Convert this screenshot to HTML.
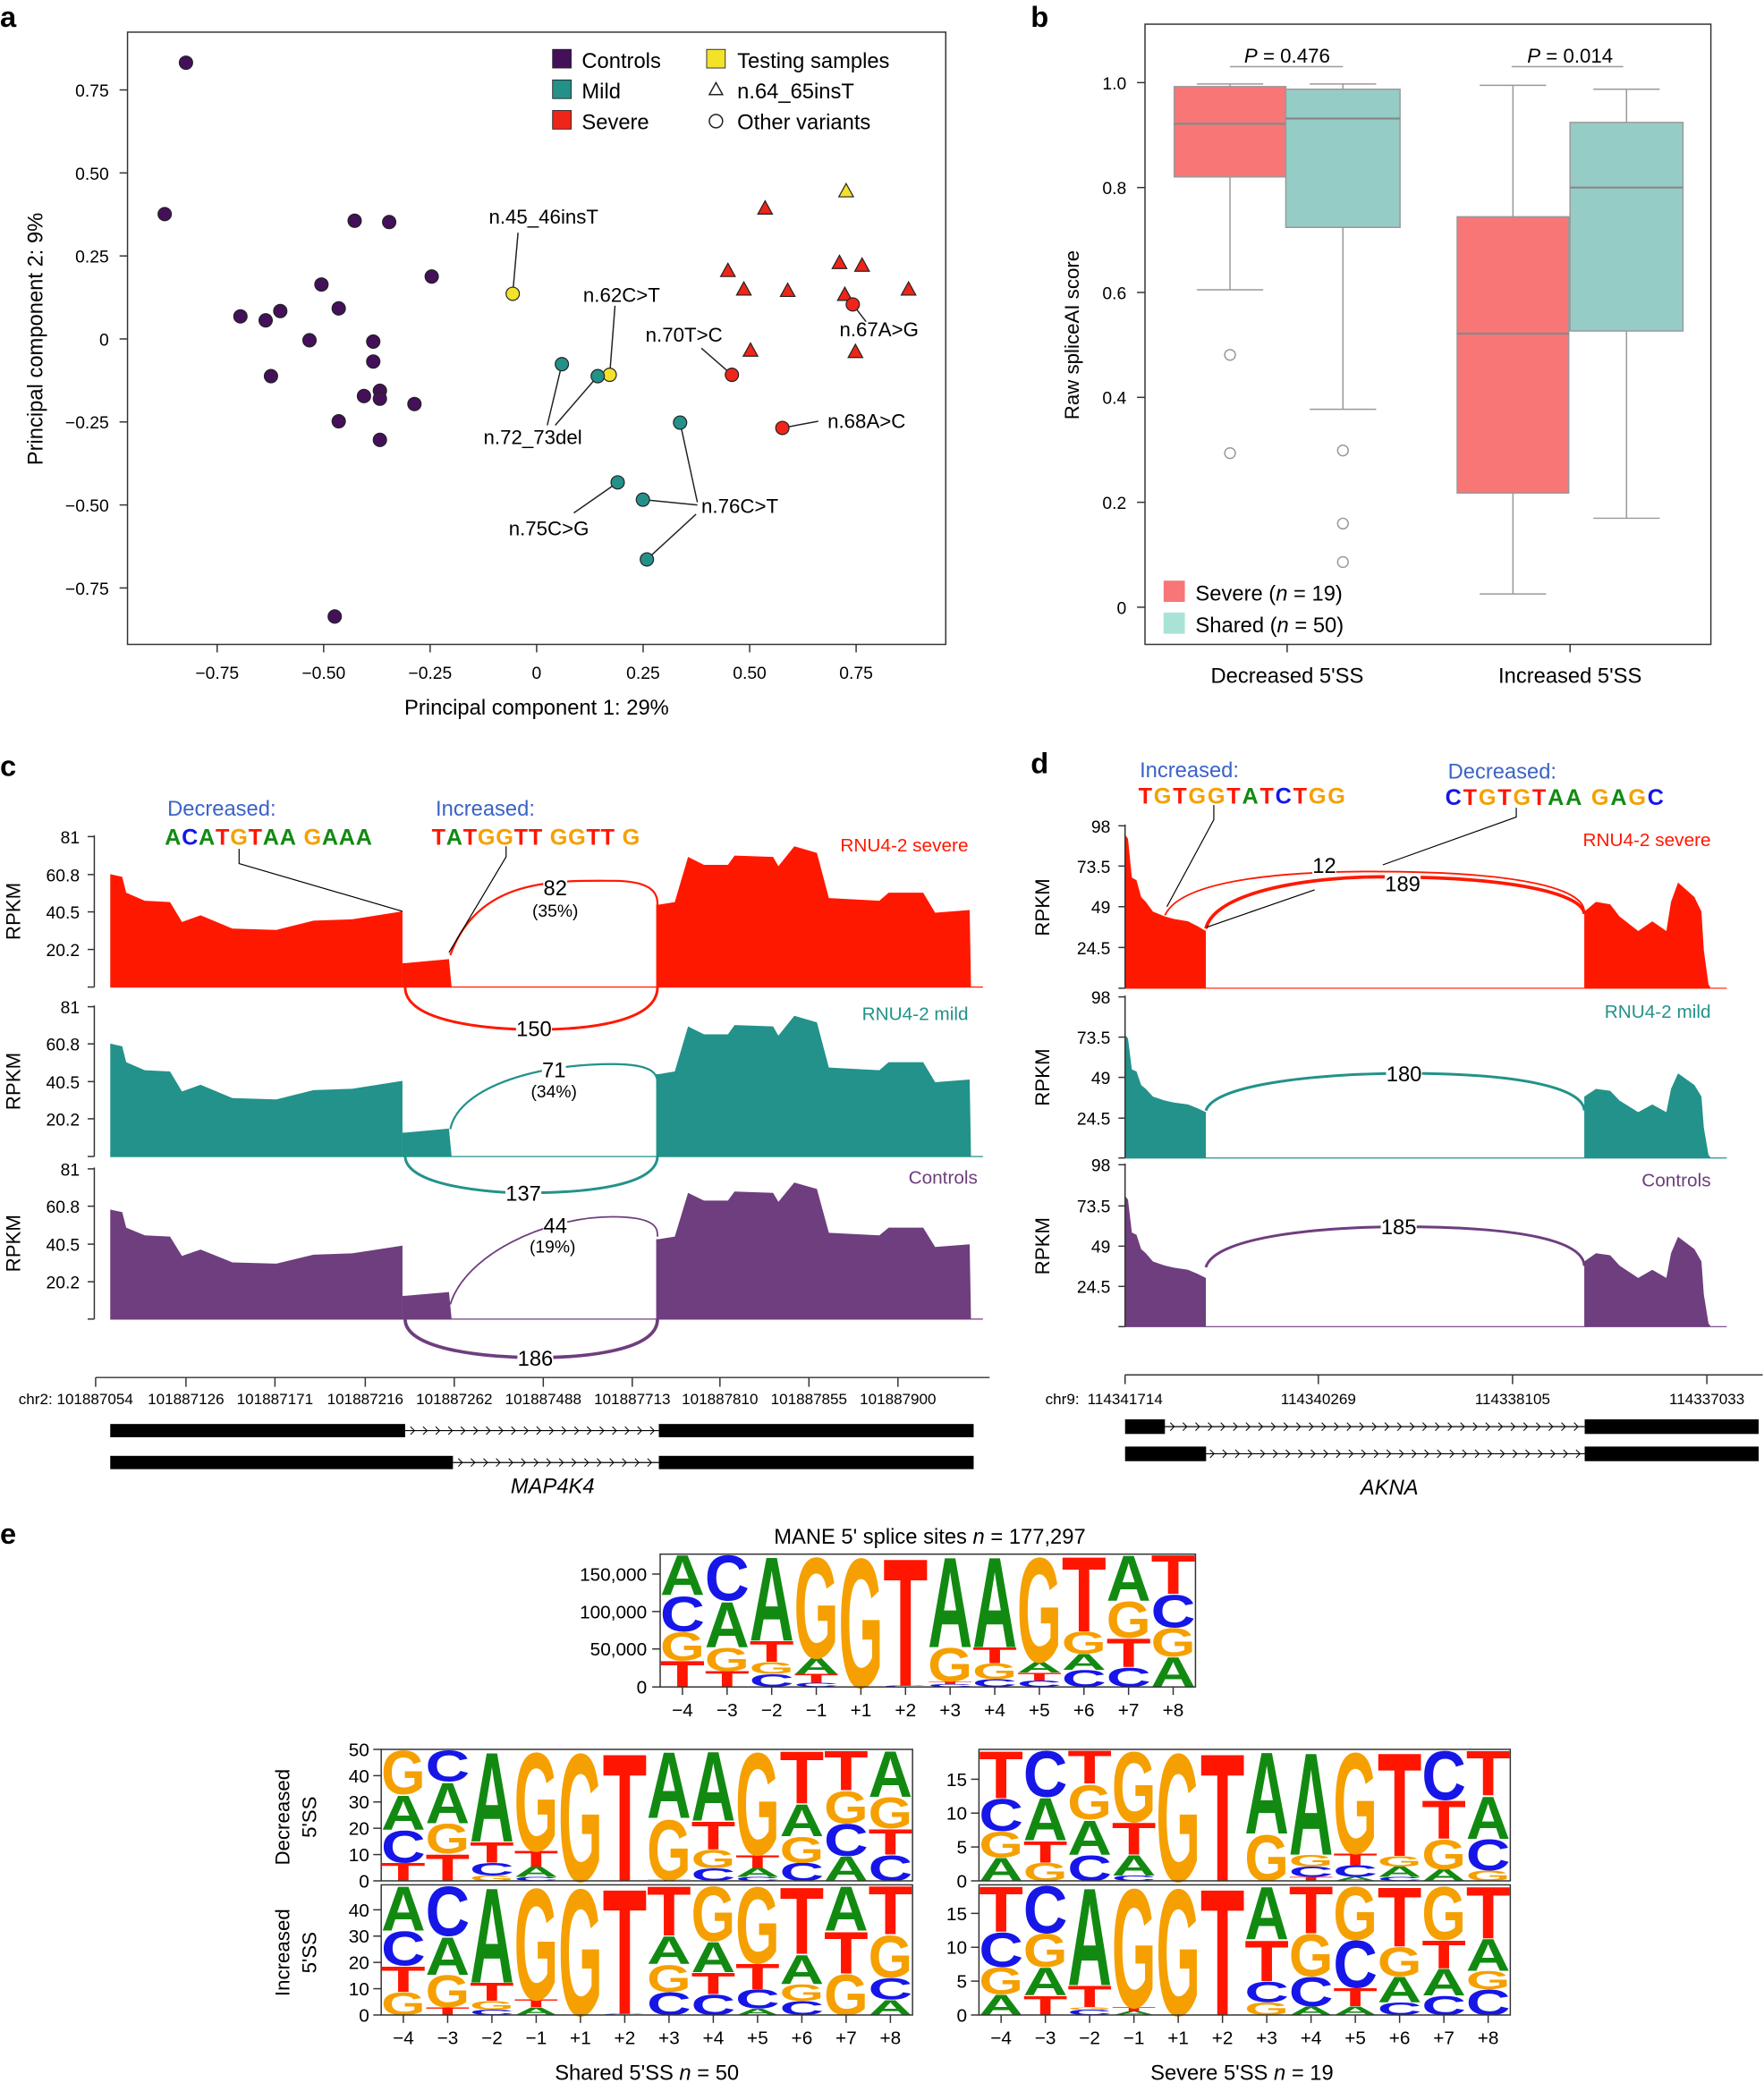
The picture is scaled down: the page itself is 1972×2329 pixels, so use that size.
<!DOCTYPE html>
<html><head><meta charset="utf-8">
<style>
html,body{margin:0;padding:0;background:#fff;}
svg{display:block;}
text{font-family:"Liberation Sans",sans-serif;}
</style></head>
<body>
<svg id="s" xmlns="http://www.w3.org/2000/svg" width="1972" height="2329" viewBox="0 0 1328 1568">
<rect width="1328" height="1568" fill="#fff"/>
</svg>
<script>
var o='';
function T(x,y,s,t,a,extra){o+='<text x="'+x+'" y="'+y+'" font-size="'+s+'"'+(a?' text-anchor="'+a+'"':'')+(extra||'')+'>'+t+'</text>';}
function L(x1,y1,x2,y2,c,w){o+='<line x1="'+x1+'" y1="'+y1+'" x2="'+x2+'" y2="'+y2+'" stroke="'+(c||'#000')+'" stroke-width="'+(w||1)+'"/>';}
// panel letters
T(0,20,22,'a','', ' font-weight="bold"');T(776,20,22,'b','',' font-weight="bold"');
T(0,584,22,'c','',' font-weight="bold"');T(776,582,22,'d','',' font-weight="bold"');T(0,1162,22,'e','',' font-weight="bold"');
// ===== panel a =====
o+='<rect x="96" y="24" width="616" height="461" fill="none" stroke="#333" stroke-width="1"/>';
[[-0.75,'−0.75'],[-0.5,'−0.50'],[-0.25,'−0.25'],[0,'0'],[0.25,'0.25'],[0.5,'0.50'],[0.75,'0.75']].forEach(function(v){var x=404+v[0]*320.7;L(x,485,x,491,'#333');T(x,511,13,v[1],'middle');});
[[0.75,'0.75'],[0.5,'0.50'],[0.25,'0.25'],[0,'0'],[-0.25,'−0.25'],[-0.5,'−0.50'],[-0.75,'−0.75']].forEach(function(v){var y=255-v[0]*250;L(90,y,96,y,'#333');T(82,y+5,13,v[1],'end');});
T(404,538,16,'Principal component 1: 29%','middle');
T(32,255,16,'Principal component 2: 9%','middle',' transform="rotate(-90 32 255)"');
var P='#44105a',M='#23918a',R='#ee2518',Y='#f3e22a';
function C(x,y,c){o+='<circle cx="'+x+'" cy="'+y+'" r="5" fill="'+c+'" stroke="#222" stroke-width="0.8"/>';}
function TR(x,y,c){o+='<polygon points="'+x+','+(y-6)+' '+(x+5.5)+','+(y+4)+' '+(x-5.5)+','+(y+4)+'" fill="'+c+'" stroke="#222" stroke-width="0.8"/>';}
[[140,47],[124,161],[267,166],[293,167],[325,208],[242,214],[181,238],[211,234],[200,241],[255,232],[233,256],[281,257],[204,283],[281,272],[274,298],[286,294],[286,300],[312,304],[255,317],[286,331],[252,464]].forEach(function(p){C(p[0],p[1],P);});
// leader lines
L(386,221,390,175,'#222');L(459,282,463,230,'#222');L(423,274,412,320,'#222');L(450,283,418,320,'#222');
L(551,282,528,262,'#222');L(589,322,616,317,'#222');L(642,229,652,242,'#222');
L(512,318,525,378,'#222');L(484,376,525,380,'#222');L(487,421,524,387,'#222');L(465,363,432,386,'#222');
C(386,221,Y);C(459,282,Y);TR(637,144,Y);
[[423,274],[450,283],[512,318],[465,363],[484,376],[487,421]].forEach(function(p){C(p[0],p[1],M);});
[[576,157],[548,204],[560,218],[593,219],[632,198],[649,200],[636,222],[684,218],[565,264],[644,265]].forEach(function(p){TR(p[0],p[1],R);});
C(642,229,R);C(551,282,R);C(589,322,R);
T(368,168,15,'n.45_46insT');T(439,227,15,'n.62C&gt;T');T(486,257,15,'n.70T&gt;C');T(632,253,15,'n.67A&gt;G');
T(364,334,15,'n.72_73del');T(623,322,15,'n.68A&gt;C');T(528,386,15,'n.76C&gt;T');T(383,403,15,'n.75C&gt;G');
// legend
o+='<rect x="416" y="37" width="14" height="14" fill="'+P+'" stroke="#222" stroke-width=".6"/><rect x="416" y="60" width="14" height="14" fill="'+M+'" stroke="#222" stroke-width=".6"/><rect x="416" y="83" width="14" height="14" fill="'+R+'" stroke="#222" stroke-width=".6"/><rect x="532" y="37" width="14" height="14" fill="'+Y+'" stroke="#222" stroke-width=".6"/>';
T(438,51,16,'Controls');T(438,74,16,'Mild');T(438,97,16,'Severe');T(555,51,16,'Testing samples');
o+='<polygon points="539,62 544,71 534,71" fill="none" stroke="#222"/><circle cx="539" cy="91" r="5" fill="none" stroke="#222"/>';
T(555,74,16,'n.64_65insT');T(555,97,16,'Other variants');
// ===== panel b =====
o+='<rect x="862" y="18" width="426" height="467" fill="none" stroke="#333"/>';
function by(v){return 457-v*395;}
[[1,'1.0'],[0.8,'0.8'],[0.6,'0.6'],[0.4,'0.4'],[0.2,'0.2'],[0,'0']].forEach(function(v){var y=by(v[0]);L(856,y,862,y,'#333');T(848,y+5,13,v[1],'end');});
T(812,252,15,'Raw spliceAI score','middle',' transform="rotate(-90 812 252)"');
L(969,485,969,491,'#333');L(1182,485,1182,491,'#333');
T(969,514,16,'Decreased 5\'SS','middle');T(1182,514,16,'Increased 5\'SS','middle');
function box(x1,x2,wt,q3,md,q1,wb,col){var cx=(x1+x2)/2,g='#999';L(cx,wt,cx,q3,g);L(cx,q1,cx,wb,g);L(cx-25,wt,cx+25,wt,g);L(cx-25,wb,cx+25,wb,g);
o+='<rect x="'+x1+'" y="'+q3+'" width="'+(x2-x1)+'" height="'+(q1-q3)+'" fill="'+col+'" stroke="#999"/>';L(x1,md,x2,md,'#888',1.5);}
box(884,968,63,65,93,133,218,'#f87676');box(968,1054,63,67,89,171,308,'#96ccc6');
box(1097,1181,64,163,251,371,447,'#f87676');box(1182,1267,67,92,141,249,390,'#96ccc6');
[[926,267],[926,341],[1011,339],[1011,394],[1011,423]].forEach(function(p){o+='<circle cx="'+p[0]+'" cy="'+p[1]+'" r="4" fill="none" stroke="#999"/>';});
L(926,50,1011,50,'#999');L(1138,50,1222,50,'#999');
T(969,47,15,'<tspan font-style="italic">P</tspan> = 0.476','middle');T(1182,47,15,'<tspan font-style="italic">P</tspan> = 0.014','middle');
o+='<rect x="876" y="437" width="16" height="16" fill="#f87676"/><rect x="876" y="461" width="16" height="16" fill="#a9e3d8"/>';
T(900,452,16,'Severe (<tspan font-style="italic">n</tspan> = 19)');T(900,476,16,'Shared (<tspan font-style="italic">n</tspan> = 50)');
// ===== panel c =====
var leftP=[[83,658],[92,660],[95,672],[109,678],[128,679],[137,694],[151,689],[175,699],[208,700],[236,693],[265,692],[303,686]];
var midP=[[305,725],[338,722]];
var rightP=[[496,681],[508,679],[518,645],[530,651],[548,651],[553,644],[582,645],[586,652],[598,637],[615,642],[624,676],[662,678],[669,672],[695,672],[704,687],[730,685]];
function trackC(base,col,k){var b0=743;function f(p){return p[0]+','+(base-(b0-p[1])*k);}
var s=[[83,b0]].concat(leftP).concat([[303,b0]]);
o+='<polygon fill="'+col+'" points="'+s.map(f).join(' ')+'"/>';
s=[[303,b0],[303,725]].concat(midP).concat([[340,b0]]);o+='<polygon fill="'+col+'" points="'+s.map(f).join(' ')+'"/>';
s=[[494,b0],[494,681]].concat(rightP).concat([[731,b0]]);o+='<polygon fill="'+col+'" points="'+s.map(f).join(' ')+'"/>';
L(83,base,740,base,col,0.8);}
trackC(743,'#ff1800',1);trackC(870.6,'#22928a',1);trackC(993,'#6e3e7e',0.97);
function yax(x,base,ticks){L(x,ticks[0][0]-1,x,base,'#333');L(x-5,base,x,base,'#333');ticks.forEach(function(t){L(x-5,t[0],x,t[0],'#333');T(x-11,t[0]+5,13,t[1],'end');});}
yax(71,743,[[629.7,'81'],[658.3,'60.8'],[686.4,'40.5'],[714.7,'20.2']]);
yax(71,870.6,[[757.8,'81'],[785.8,'60.8'],[814.2,'40.5'],[842.2,'20.2']]);
yax(71,993,[[879.9,'81'],[908,'60.8'],[936.6,'40.5'],[964.9,'20.2']]);
[[686,'RPKM'],[814,'RPKM'],[936,'RPKM']].forEach(function(r){T(15,r[0],15,r[1],'middle',' transform="rotate(-90 15 '+r[0]+')"');});
// arcs c
o+='<g fill="none">';
o+='<path d="M339,719 C360,660 420,663 461,663 C495,663 495,675 495,682" stroke="#ff1800" stroke-width="1.5"/>';
o+='<path d="M305,743 C305,770 370,775 403,775 C440,775 495,770 495,743" stroke="#ff1800" stroke-width="2"/>';
o+='<path d="M339,850 C345,820 400,801 461,801 C495,801 495,810 495,817" stroke="#22928a" stroke-width="1.5"/>';
o+='<path d="M305,870 C305,893 370,898 395,898 C440,898 495,893 495,870" stroke="#22928a" stroke-width="2"/>';
o+='<path d="M339,982 C350,945 410,916 461,916 C495,916 495,925 495,931" stroke="#6e3e7e" stroke-width="1.2"/>';
o+='<path d="M305,993 C305,1017 370,1022 403,1022 C440,1022 495,1017 495,993" stroke="#6e3e7e" stroke-width="2.5"/>';
o+='</g>';
function lab(x,y,t,s){o+='<rect x="'+(x-t.length*4.5)+'" y="'+(y-13)+'" width="'+(t.length*9)+'" height="16" fill="#fff"/>';T(x,y,s||16,t,'middle');}
lab(418,674,'82');T(418,690,13,'(35%)','middle');lab(402,780,'150');
lab(417,811,'71');T(417,826,13,'(34%)','middle');lab(394,904,'137');
lab(418,928,'44');T(416,943,13,'(19%)','middle');lab(403,1028,'186');
T(729,641,14,'RNU4-2 severe','end',' fill="#ff1800"');T(729,768,14,'RNU4-2 mild','end',' fill="#22928a"');T(736,891,14,'Controls','end',' fill="#6e3e7e"');
var cols={A:'#128a12',C:'#1616e8',G:'#f5a000',T:'#ff1500'};
function seq(x,y,str,s,sp){var t='';for(var i=0;i<str.length;i++){var ch=str[i];if(ch==' '){t+='<tspan> </tspan>';continue;}t+='<tspan fill="'+cols[ch]+'">'+ch+'</tspan>';}
T(x,y,s,t,'',' font-weight="bold" letter-spacing="'+(sp||0)+'"');}
T(126,614,16,'Decreased:','',' fill="#3b63c6"');T(328,614,16,'Increased:','',' fill="#3b63c6"');
seq(124,636,'ACATGTAA GAAA',17,0.5);seq(325,636,'TATGGTT GGTT G',17,0.5);
o+='<polyline points="180,639 180,650 303,686" fill="none" stroke="#000" stroke-width=".8"/>';
o+='<polyline points="381,637 381,645 338,717" fill="none" stroke="#000" stroke-width=".8"/>';
// c axis & gene
L(72,1037,745,1037,'#333');
var ct=[[72,'chr2: 101887054'],[140,'101887126'],[207,'101887171'],[275,'101887216'],[342,'101887262'],[409,'101887488'],[476,'101887713'],[542,'101887810'],[609,'101887855'],[676,'101887900']];
ct.forEach(function(t,i){L(t[0],1037,t[0],1044,'#333');T(i==0?14:t[0],1057,11.5,t[1],i==0?'':'middle');});
function arrows(x1,x2,y){L(x1,y,x2,y,'#000',0.8);for(var x=x1+6;x<x2-3;x+=9.5){o+='<polyline points="'+(x-2)+','+(y-3)+' '+(x+1)+','+y+' '+(x-2)+','+(y+3)+'" fill="none" stroke="#000" stroke-width=".7"/>';}}
arrows(305,496,1077);arrows(341,496,1101);
o+='<rect x="83" y="1072" width="222" height="10" fill="#000"/><rect x="496" y="1072" width="237" height="10" fill="#000"/>';
o+='<rect x="83" y="1096" width="258" height="10" fill="#000"/><rect x="496" y="1096" width="237" height="10" fill="#000"/>';
T(416,1124,16,'MAP4K4','middle',' font-style="italic"');
// ===== panel d =====
var dl=[[846.8,743.9],[846.8,627.8],[849.2,631.4],[852.1,660.6],[855.6,662.5],[859.1,675.2],[862.6,678.9],[868,686.2],[876.8,689.8],[883.8,691.7],[894.4,693.5],[901.5,697.1],[907.8,700.8],[907.8,743.9]];
var dr=[[1192.7,743.9],[1192.7,686.2],[1201.5,678.9],[1212.2,680.7],[1219.2,689.8],[1233.3,700.8],[1243.9,693.5],[1254.5,700.8],[1258,678.9],[1263.3,664.3],[1275.6,675.2],[1280.9,686.2],[1282.7,715.4],[1286.2,740.9],[1288,743.9]];
function trackD(base,col,k){function f(p){return p[0]+','+(base-(743.9-p[1])*k);}
o+='<polygon fill="'+col+'" points="'+dl.map(f).join(' ')+'"/><polygon fill="'+col+'" points="'+dr.map(f).join(' ')+'"/>';L(847,base,1300,base,col,0.8);}
trackD(743.9,'#ff1800',1);trackD(871.7,'#22928a',0.8);trackD(998.7,'#6e3e7e',0.85);
yax(847,743.9,[[621.6,'98'],[651.9,'73.5'],[682.5,'49'],[713.2,'24.5']]);
yax(847,871.7,[[750.4,'98'],[780.7,'73.5'],[811,'49'],[841.7,'24.5']]);
yax(847,998.7,[[876.8,'98'],[907.8,'73.5'],[938.1,'49'],[968.4,'24.5']]);
[[683,'RPKM'],[811,'RPKM'],[938,'RPKM']].forEach(function(r){T(790,r[0],15,r[1],'middle',' transform="rotate(-90 790 '+r[0]+')"');});
o+='<g fill="none">';
o+='<path d="M877,689 C890,660 980,656 1032,656 C1150,656 1192,670 1192.7,686" stroke="#ff1800" stroke-width="1.2"/>';
o+='<path d="M907.8,699 C915,670 990,660 1039,660 C1150,660 1192,675 1192.7,688" stroke="#ff1800" stroke-width="2.5"/>';
o+='<path d="M907.8,836 C915,815 1000,808 1057,808 C1150,808 1192,820 1192.7,836" stroke="#22928a" stroke-width="2"/>';
o+='<path d="M907.8,954 C915,930 1000,923.5 1053,923.5 C1150,923.5 1192,935 1192.7,953" stroke="#6e3e7e" stroke-width="2"/>';
o+='</g>';
lab(997,657,'12');lab(1056,671,'189');lab(1057,814,'180');lab(1053,929,'185');
T(1288,637,14,'RNU4-2 severe','end',' fill="#ff1800"');T(1288,766,14,'RNU4-2 mild','end',' fill="#22928a"');T(1288,893,14,'Controls','end',' fill="#6e3e7e"');
T(858,585,16,'Increased:','',' fill="#3b63c6"');T(1090,586,16,'Decreased:','',' fill="#3b63c6"');
seq(857,605,'TGTGGTATCTGG',17,1.2);seq(1088,606,'CTGTGTAA GAGC',17,1.2);
o+='<polyline points="913.8,606 913.8,617 878.5,682.5" fill="none" stroke="#000" stroke-width=".8"/>';
o+='<polyline points="1141.5,608 1141.5,615 1041,651" fill="none" stroke="#000" stroke-width=".8"/>';
L(989.7,669.8,908.5,697.9,'#000',0.8);
L(847,1035,1327,1035,'#333');
[[847,'114341714'],[992.5,'114340269'],[1138.7,'114338105'],[1285,'114337033']].forEach(function(t){L(t[0],1035,t[0],1042,'#333');T(t[0],1057,11.5,t[1],'middle');});
T(787,1057,11.5,'chr9:');
arrows(877,1193,1074);arrows(907,1193,1094.4);
o+='<rect x="847" y="1068.5" width="30" height="11" fill="#000"/><rect x="1193" y="1068.5" width="131" height="11" fill="#000"/>';
o+='<rect x="847" y="1089" width="61" height="11" fill="#000"/><rect x="1193" y="1089" width="131" height="11" fill="#000"/>';
T(1046,1125,16,'AKNA','middle',' font-style="italic"');
// ===== panel e logos =====
var W={A:70,C:72,G:75,T:62};
function logo(x0,x1,yT,yB,data){var cw=(x1-x0)/12,H=yB-yT;
data.forEach(function(col,i){var y=yB;var parts=col.split(' ');parts.forEach(function(p){var ch=p[0],f=parseFloat(p.slice(1))/100;var h=f*H;if(h<0.5){return;}
var sy=h/72;o+='<text x="0" y="0" font-size="100" font-weight="bold" fill="'+cols[ch]+'" textLength="'+(cw*100/100)+'" lengthAdjust="spacingAndGlyphs" transform="translate('+(x0+i*cw)+','+y+') scale(1,'+sy.toFixed(4)+')">'+ch+'</text>';y-=h;});});
o+='<rect x="'+x0+'" y="'+yT+'" width="'+(x1-x0)+'" height="'+H+'" fill="none" stroke="#333" stroke-width="1"/>';}
// strings: bottom-up
logo(497,900,1170,1270,['T20 G22 C27 A31','T12 G18 A35 C35','C10 G9 T16 A65','C3 T7 A12 G78','G100','C1 T99','C2 T2 G26 A70','C6 G12 T12 A70','C5 T6 A8 G81','C13 A12 G17 T58','C15 T22 G28 A35','A23 G22 C25 T30']);
logo(287,687,1317,1416,['T14 C25 A27 G34','T21 G23 A32 C24','G4 C10 T16 A70','C3 A8 T12 G77','G100','T100','T1 G47 A52','C10 G14 T22 A54','C3 A7 T10 G80','C14 G20 A25 T41','A19 C25 G25 T31','C20 T20 G24 A36']);
logo(287,687,1419,1517,['G18 T20 C27 A35','T6 G25 A30 C39','C4 G7 T14 A75','A6 T6 G88','G100','C1 T99','C18 G21 A22 T39','C16 T17 A24 G43','A5 C15 T20 G60','C11 G13 A23 T53','G32 T33 A35','A12 C17 G33 T38']);
logo(737,1137,1317,1416,['A18 G20 C25 T37','G14 T17 A33 C36','C20 A27 G27 T26','C4 A16 T25 G55','G100','T100','G36 A64','T3 C8 G9 A80','A3 C9 T9 G79','C3 A8 G8 T81','A9 G23 T30 C38','G8 C24 A33 T35']);
logo(737,1137,1419,1517,['A16 G21 C27 T36','T15 A22 G26 C37','C4 G2 T17 A77','A3 T3 G94','G100','T100','G10 C16 T32 A42','A7 C23 G33 T37','A7 T14 C37 G42','C10 A20 G23 T47','C15 A21 T22 G42','C20 G14 A25 T41']);
// logo axes
T(700,1162,16,'MANE 5\' splice sites <tspan font-style="italic">n</tspan> = 177,297','middle');
[[1270,'0'],[1241.4,'50,000'],[1213.2,'100,000'],[1185,'150,000']].forEach(function(t){L(491,t[0],497,t[0],'#333');T(487,t[0]+5,14,t[1],'end');});
var lbl=['−4','−3','−2','−1','+1','+2','+3','+4','+5','+6','+7','+8'];
function xt(x0,x1,y){var cw=(x1-x0)/12;lbl.forEach(function(l,i){var x=x0+cw*(i+0.5);L(x,y,x,y+6,'#333');T(x,y+22,14,l,'middle');});}
xt(497,900,1270);xt(287,687,1517);xt(737,1137,1517);
function yt(x,ticks){ticks.forEach(function(t){L(x-6,t[0],x,t[0],'#333');T(x-9,t[0]+5,14,t[1],'end');});}
yt(287,[[1416,'0'],[1396.2,'10'],[1376.4,'20'],[1356.6,'30'],[1336.8,'40'],[1317,'50']]);
yt(287,[[1517,'0'],[1497.2,'10'],[1477.4,'20'],[1457.6,'30'],[1437.8,'40']]);
yt(737,[[1416,'0'],[1390.5,'5'],[1365,'10'],[1339.5,'15']]);
yt(737,[[1517,'0'],[1491.5,'5'],[1466,'10'],[1440.5,'15']]);
T(218,1368,15,'Decreased','middle',' transform="rotate(-90 218 1368)"');T(238,1368,15,'5\'SS','middle',' transform="rotate(-90 238 1368)"');
T(218,1470,15,'Increased','middle',' transform="rotate(-90 218 1470)"');T(238,1470,15,'5\'SS','middle',' transform="rotate(-90 238 1470)"');
T(487,1566,16,'Shared 5\'SS <tspan font-style="italic">n</tspan> = 50','middle');T(935,1566,16,'Severe 5\'SS <tspan font-style="italic">n</tspan> = 19','middle');
document.getElementById('s').insertAdjacentHTML('beforeend',o);
</script>
</body></html>
